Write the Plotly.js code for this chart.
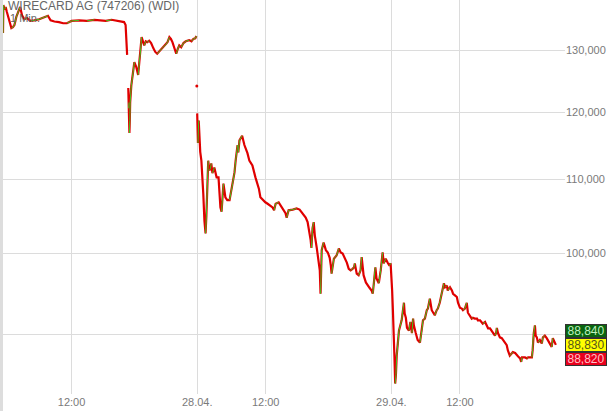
<!DOCTYPE html>
<html>
<head>
<meta charset="utf-8">
<script src="https://cdn.plot.ly/plotly-3.0.1.min.js"></script>
<style>html,body{margin:0;padding:0;background:#fff}#chart{width:613px;height:411px}</style>
</head>
<body>
<div id="chart"></div>
<script>
const chartTitle = 'WIRECARD AG (747206) (WDI)';
const intervalLabel = '1 Min.';

const day27 = '2020-04-27';
const times27 = ['09:00','09:01','09:04','09:07','09:10','09:14','09:18','09:22','09:26','09:30','09:35','09:40','09:45','09:50','09:56','10:03','10:12','10:22','10:35','10:50','10:58','11:05','11:15','11:27','11:38','11:48','12:00','12:20','12:40','13:00','13:13','13:30','13:45','13:57','14:10','14:18','14:22','14:24','14:26','14:27','14:29','14:30','14:31','14:32','14:33','14:34','14:37','14:40','14:45','14:50','14:55','14:58','15:01','15:04','15:08','15:11','15:15','15:19','15:24','15:29','15:35','15:40','15:45','15:51','15:56','16:01','16:07','16:12','16:17','16:21','16:25','16:30','16:35','16:39','16:43','16:48','16:54','17:00','17:09','17:15','17:20','17:25','17:28'];
const prices27 = [132.9,137.8,137.0,137.45,136.6,135.5,134.3,133.75,133.9,134.3,135.7,136.6,137.45,136.0,135.3,135.5,135.0,135.1,135.3,135.7,135.9,135.1,134.9,134.8,134.6,134.6,135.0,135.1,135.0,135.2,135.1,135.0,135.2,135.1,134.9,134.8,134.3,132.0,129.2,null,123.8,120.6,121.5,116.8,118.7,121.5,124.2,125.5,128.0,127.2,125.9,128.0,129.7,132.2,131.4,130.8,131.5,131.35,131.6,131.2,130.3,129.7,129.4,129.8,130.2,130.5,130.9,131.35,132.2,131.9,131.35,130.3,129.4,130.2,130.8,130.5,131.2,131.5,131.7,131.5,131.9,132.0,132.4];

const auctionTime = '2020-04-27 17:29';
const auctionPrice = 124.1;

const day28 = '2020-04-28';
const times28 = ['09:00','09:02','09:04','09:06','09:08','09:11','09:14','09:16','09:19','09:22','09:24','09:27','09:29','09:32','09:35','09:37','09:40','09:45','09:51','09:56','09:58','10:01','10:04','10:09','10:14','10:19','10:25','10:30','10:33','10:38','10:41','10:46','10:48','10:51','10:56','10:58','11:04','11:12','11:17','11:25','11:33','11:38','11:42','11:46','11:52','11:59','12:05','12:10','12:18','12:22','12:26','12:34','12:44','12:52','12:55','13:00','13:11','13:21','13:29','13:37','13:45','13:50','13:55','13:58','14:00','14:03','14:06','14:09','14:14','14:17','14:22','14:24','14:26','14:27','14:32','14:38','14:43','14:48','14:51','14:53','14:59','15:06','15:12','15:17','15:22','15:27','15:33','15:38','15:43','15:48','15:52','15:54','15:56','15:59','16:04','16:09','16:12','16:17','16:23','16:28','16:33','16:38','16:41','16:44','16:46','16:48','16:51','16:57','17:02','17:05','17:07','17:10','17:15','17:20','17:25','17:28'];
const prices28 = [119.8,115.3,118.7,115.7,114.0,112.7,110.3,108.0,104.3,102.6,104.8,109.9,112.7,111.3,111.6,112.3,110.9,111.7,110.3,110.3,108.9,106.1,105.5,109.4,107.5,107.1,107.1,108.5,109.4,111.0,112.7,115.0,113.9,115.7,116.2,116.4,115.0,113.8,112.7,112.0,110.3,109.4,108.7,107.5,107.1,106.8,106.6,106.4,106.1,105.7,106.6,106.8,105.96,105.3,104.7,105.7,105.8,105.96,105.8,105.3,104.7,104.1,102.7,101.7,100.7,103.3,104.1,102.3,100.7,99.3,97.8,94.9,98.5,100.4,101.4,100.4,100.1,99.4,98.4,97.4,99.3,99.7,100.6,100.1,99.96,99.4,98.8,98.0,97.8,98.0,98.2,98.7,98.2,97.4,97.2,97.8,99.5,97.2,96.3,95.9,95.6,95.3,94.9,96.2,97.5,98.2,96.8,96.2,97.8,99.1,100.1,98.7,99.3,98.8,98.4,98.7];

const day29 = '2020-04-29';
const times29 = ['09:00','09:02','09:04','09:06','09:08','09:10','09:12','09:14','09:17','09:20','09:27','09:30','09:33','09:35','09:38','09:41','09:46','09:50','09:54','09:57','09:59','10:04','10:09','10:15','10:20','10:23','10:28','10:33','10:36','10:41','10:46','10:49','10:54','10:59','11:02','11:07','11:10','11:15','11:18','11:21','11:26','11:28','11:34','11:39','11:42','11:47','11:52','11:55','12:00','12:05','12:08','12:13','12:18','12:21','12:26','12:31','12:34','12:39','12:45','12:47','12:53','13:00','13:06','13:11','13:14','13:19','13:27','13:32','13:35','13:37','13:40','13:45','13:50','13:56','14:03','14:06','14:09','14:11','14:17','14:19','14:25','14:30','14:33','14:38','14:41','14:43','14:51','14:56','14:59','15:04','15:09','15:11','15:12','15:14','15:17','15:19','15:22','15:25','15:30','15:35','15:38','15:43','15:48','15:51','15:56','16:01','16:04','16:06','16:09','16:12'];
const prices29 = [97.5,95.3,92.9,90.9,87.5,84.5,85.5,87.6,88.9,90.5,91.7,92.9,93.8,92.5,92.0,90.8,90.5,91.5,90.2,91.9,91.1,90.2,89.4,89.1,90.5,91.7,91.9,92.9,93.1,94.3,92.9,92.6,92.3,92.9,93.1,93.8,94.5,95.5,96.2,95.7,95.9,95.3,95.7,95.3,94.9,94.7,94.5,93.8,93.2,93.1,92.9,93.1,93.8,92.6,92.3,91.9,92.0,91.9,91.9,91.7,91.7,91.3,91.5,91.1,90.75,90.75,90.2,89.9,90.2,90.8,90.2,89.7,89.6,89.2,88.8,88.2,87.9,87.6,87.9,88.0,87.9,87.6,87.5,87.3,86.9,87.4,87.4,87.3,87.4,87.4,87.4,88.2,89.4,90.2,91.1,89.9,89.7,89.1,89.4,89.0,89.7,89.9,89.6,89.4,89.0,88.6,89.6,89.4,89.0,88.83];

const quoteLabels = ['88,840','88,830','88,820'];
const quoteBg = ['#0a6410','#ffff00','#e8001c'];
const quoteFg = ['#bff0bf','#55551a','#ffc0c8'];
const quotePrice = 88.83;

// 90,000 sits under the quote boxes in the reference, so only its grid line shows
const yTickVals = [90,100,110,120,130];
const yTickText = ['','100,000','110,000','120,000','130,000'];
const xTickVals = ['2020-04-27 12:00','2020-04-28 09:00','2020-04-28 12:00','2020-04-29 09:00','2020-04-29 12:00'];
const xTickText = ['12:00','28.04.','12:00','29.04.','12:00'];

// assemble series
const xs = [], ys = [];
times27.forEach((t,i)=>{xs.push(day27+' '+t); ys.push(prices27[i]);});
xs.push(day27+' 17:29:30'); ys.push(null);
times28.forEach((t,i)=>{xs.push(day28+' '+t); ys.push(prices28[i]);});
times29.forEach((t,i)=>{xs.push(day29+' '+t); ys.push(prices29[i]);});

// up-moves drawn in green
const gx = [], gy = [];
for (let i=1;i<ys.length;i++){
  if (ys[i]!==null && ys[i-1]!==null && ys[i]>ys[i-1]) {
    gx.push(xs[i-1], xs[i], null); gy.push(ys[i-1], ys[i], null);
  }
}

const RED = '#e00000', GREEN = '#3cc81e';
const traces = [
  {x: xs, y: ys, type:'scatter', mode:'lines', line:{color:RED, width:2.2}, hoverinfo:'skip'},
  {x: gx, y: gy, type:'scatter', mode:'lines', line:{color:GREEN, width:1}, hoverinfo:'skip'},
  {x: [auctionTime], y: [auctionPrice], type:'scatter', mode:'markers', marker:{color:RED, size:3}, hoverinfo:'skip'}
];

const font = {family:'"Liberation Sans", Arial, sans-serif', size:11, color:'#7a7a7a'};
const annotations = [
  {xref:'paper', yref:'paper', x:0.007, y:1, xanchor:'left', yanchor:'top', yshift:2, borderpad:0, showarrow:false,
   text: chartTitle, font:{family:font.family, size:12, color:'#666666'}},
  {xref:'paper', yref:'paper', x:0.011, y:1, xanchor:'left', yanchor:'top', yshift:-11, borderpad:0, showarrow:false,
   text: intervalLabel, font:{family:font.family, size:11, color:'#666666'}}
];
quoteLabels.forEach((lab,i)=>{
  annotations.push({xref:'paper', yref:'y', x:1, y:Math.log10(quotePrice), xanchor:'left', yanchor:'middle',
    yshift:(1-i)*14, showarrow:false, text:lab, bgcolor:quoteBg[i], bordercolor:'#333', borderwidth:1, borderpad:0,
    width:40, height:12, font:{family:font.family, size:12, color:quoteFg[i]}});
});

const layout = {
  width:613, height:411,
  margin:{l:3, r:48, t:0, b:17},
  paper_bgcolor:'#ffffff', plot_bgcolor:'#ffffff',
  showlegend:false,
  font: font,
  xaxis:{type:'date', range:['2020-04-27 09:00','2020-04-29 16:36'],
    rangebreaks:[{pattern:'hour', bounds:[17.5, 9]}],
    tickvals:xTickVals, ticktext:xTickText, showgrid:true, gridcolor:'#dcdcdc', gridwidth:1,
    zeroline:false, showline:false, ticks:'', tickfont:font},
  yaxis:{type:'log', side:'right', range:[1.92101, 2.14208], tickvals:yTickVals, ticktext:yTickText,
    showgrid:true, gridcolor:'#dcdcdc', gridwidth:1, zeroline:false, showline:false, ticks:'', tickfont:font},
  shapes:[{type:'rect', xref:'paper', yref:'paper', x0:-0.006, x1:0, y0:-0.05, y1:1, fillcolor:'#dddddd', line:{width:0}, layer:'below'}],
  annotations: annotations
};

Plotly.newPlot('chart', traces, layout, {staticPlot:true, displayModeBar:false});
</script>
</body>
</html>
